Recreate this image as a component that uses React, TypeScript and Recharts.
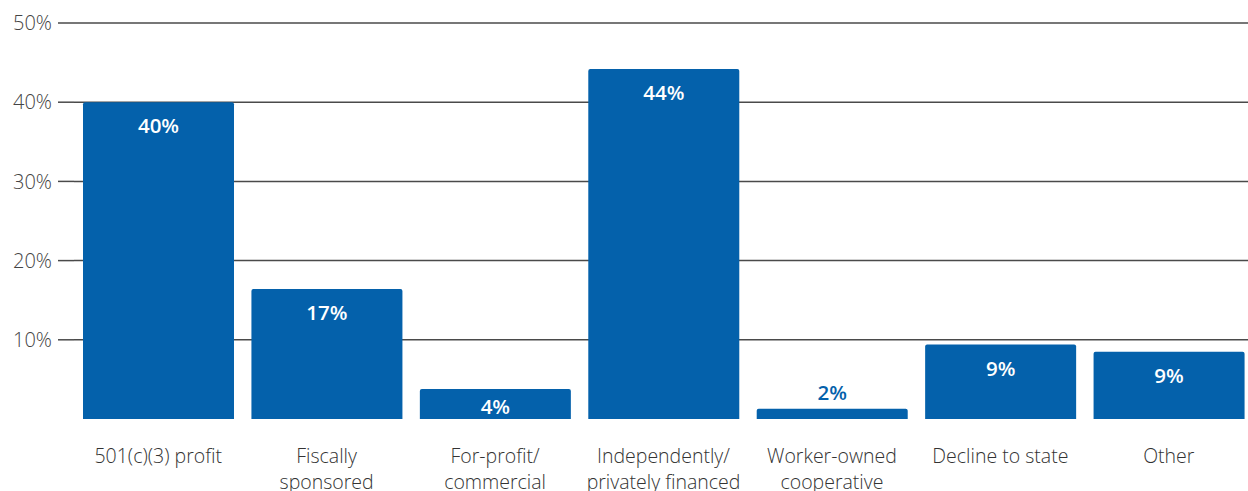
import React from 'react';
import { BarChart, Bar, XAxis, YAxis, CartesianGrid, LabelList } from 'recharts';

const categories = [
  '501(c)(3) profit',
  'Fiscally\nsponsored',
  'For-profit/\ncommercial',
  'Independently/\nprivately financed',
  'Worker-owned\ncooperative',
  'Decline to state',
  'Other',
];
const shares = [40, 16.4, 3.8, 44.2, 1.3, 9.4, 8.5];
const shareLabels = ['40%', '17%', '4%', '44%', '2%', '9%', '9%'];
const yTicks = [10, 20, 30, 40, 50];

const BLUE = '#0461AB';
const FONT = '"Open Sans", "Noto Sans", sans-serif';

const data = categories.map((name, i) => ({ name, share: shares[i], label: shareLabels[i] }));

const CategoryTick = (props: any) => {
  const { x, y, payload } = props;
  const lines = String(payload.value).split('\n');
  return (
    <g transform={`translate(${x},${y})`}>
      {lines.map((line: string, i: number) => (
        <text
          key={i}
          x={0}
          y={28 + i * 26}
          textAnchor="middle"
          dominantBaseline="central"
          fill="#333"
          fontSize={19.5}
          fontWeight={300}
          fontFamily={FONT}
        >
          {line}
        </text>
      ))}
    </g>
  );
};

const ValueLabel = (props: any) => {
  const { x, y, width, height, index } = props;
  const small = height < 20;
  const offset = Math.min(23, height / 2 + 2);
  return (
    <text
      x={x + width / 2}
      y={small ? y - 17 : y + offset}
      textAnchor="middle"
      dominantBaseline="central"
      fill={small ? BLUE : '#fff'}
      fontSize={20.5}
      fontWeight={600}
      fontFamily={FONT}
    >
      {shareLabels[index]}
    </text>
  );
};

export default function App() {
  return (
    <div style={{ position: 'absolute', left: 0, top: 0, width: 1248, height: 491, overflow: 'hidden', background: '#fff' }}>
      <BarChart
        width={1253}
        height={491}
        data={data}
        margin={{ top: 23, right: 0, bottom: 0, left: 0 }}
        barSize={151}
      >
        <CartesianGrid vertical={false} horizontalValues={yTicks} stroke="#4a4a4a" strokeWidth={1.5} />
        <XAxis
          dataKey="name"
          axisLine={false}
          tickLine={false}
          interval={0}
          height={72}
          tick={<CategoryTick />}
        />
        <YAxis
          width={74}
          domain={[0, 50]}
          ticks={yTicks}
          axisLine={false}
          tickSize={16}
          tickMargin={6}
          tickLine={{ stroke: '#4a4a4a', strokeWidth: 1.5 }}
          tickFormatter={(v: number) => `${v}%`}
          tick={{ fill: '#444', fontSize: 20, fontWeight: 300, fontFamily: FONT }}
        />
        <Bar dataKey="share" fill={BLUE} radius={[2, 2, 0, 0]} isAnimationActive={false}>
          <LabelList dataKey="share" content={<ValueLabel />} />
        </Bar>
      </BarChart>
    </div>
  );
}
